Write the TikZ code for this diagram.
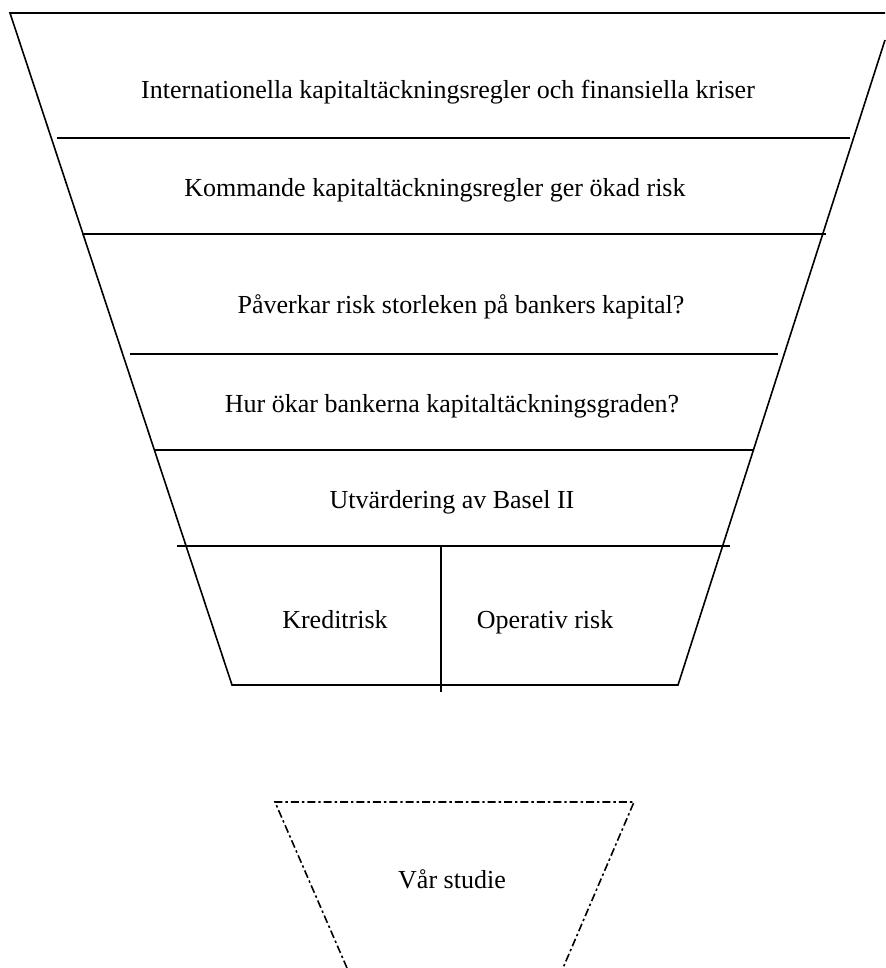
\documentclass[tikz,border=0pt]{standalone}
\usepackage{fontspec}
\setmainfont{Liberation Serif}
\begin{document}
\begin{tikzpicture}[x=0.5pt,y=-0.5pt,font=\fontsize{13}{15}\selectfont,
            every node/.style={anchor=base}]
            \useasboundingbox (0,0) rectangle (885,968);
            \coordinate (A) at (10, 13);
            \coordinate (B) at (885, 13);
            \coordinate (C) at (885, 40);
            \coordinate (D) at (678, 685);
            \coordinate (E) at (232, 685);

            \draw[thick] (C) -- (D) -- (E) -- (A) -- (B);

            \draw[thick] (57, 138) -- (850, 138);
            \draw[thick] (82, 234) -- (826, 234);
            \draw[thick] (130, 354) -- (778, 354);
            \draw[thick] (155, 450) -- (753, 450);
            \draw[thick] (177, 546) -- (730, 546);
            \draw[thick] (441, 546) -- (441, 692);

            \node (I) at (448, 99) { Internationella kapitaltäckningsregler och finansiella kriser };
            \node (K) at (435, 197) { Kommande kapitaltäckningsregler ger ökad risk };
            \node (P) at (461, 313) { Påverkar risk storleken på bankers kapital? };
            \node (H) at (452, 412) { Hur ökar bankerna kapitaltäckningsgraden? };
            \node (U) at (452, 508) { Utvärdering av Basel II };
            \node (KR) at (335, 628) { Kreditrisk };
            \node (OR) at (545, 628) { Operativ risk };

            \coordinate (F) at (275, 802);
            \coordinate (G) at (634, 802);
            \coordinate (L) at (563, 968);
            \coordinate (M) at (347, 968);

            \draw[thick,dash pattern=on 4pt off 1.5pt on 1.2pt off 1.5pt] (M) -- (F) -- (G) -- (L);
            \node (V) at (452, 888) { Vår studie };
        \end{tikzpicture}
\end{document}
